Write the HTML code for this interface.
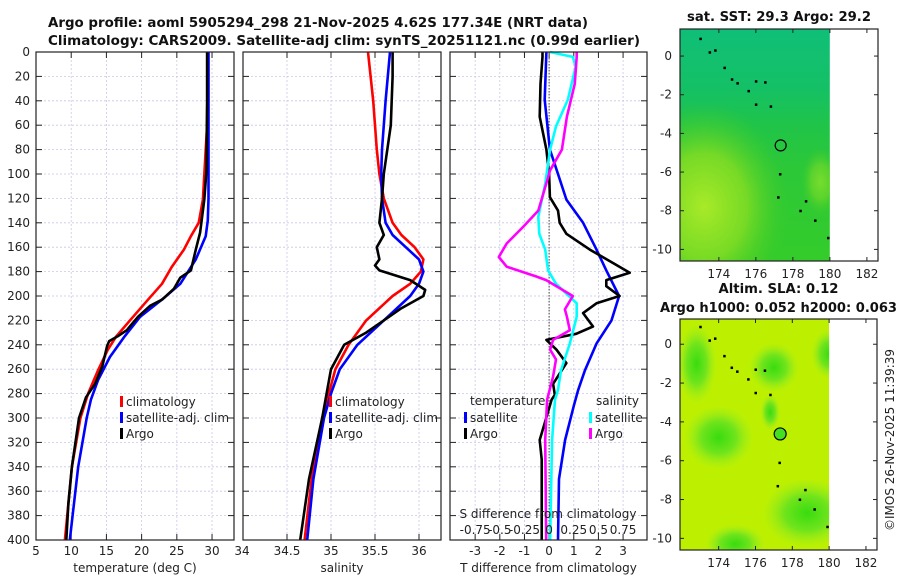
<!DOCTYPE html>
<html><head><meta charset="utf-8">
<style>
body{margin:0;background:#fff;}
svg{display:block;font-family:"DejaVu Sans","Liberation Sans",sans-serif;}
.t{font-size:12px;fill:#222;}
.ttl{font-size:13px;font-weight:bold;fill:#111;}
</style></head>
<body>
<svg id="c" width="900" height="580" viewBox="0 0 900 580">
<text class="ttl" x="318" y="27" text-anchor="middle" textLength="540" lengthAdjust="spacingAndGlyphs">Argo profile: aoml 5905294_298 21-Nov-2025 4.62S 177.34E (NRT data)</text>
<text class="ttl" x="344" y="45" text-anchor="middle" textLength="592" lengthAdjust="spacingAndGlyphs">Climatology: CARS2009. Satellite-adj clim: synTS_20251121.nc (0.99d earlier)</text>
<g id="plots"></g>
</svg>
<script>
// ---- data ----
const tClimD=[0,60,121,140,151,162,176,190,203,217,233,244,261,280,300,340,400];
const tClimV=[29.4,29.3,28.7,28.1,27.0,26.0,24.3,22.9,20.9,18.8,16.4,15.2,13.8,12.4,11.3,10.1,9.1];
const tSatD=[0,60,120,138,151,170,190,201,217,233,250,269,285,300,340,400];
const tSatV=[29.5,29.5,29.5,29.4,29.1,27.7,25.5,23.3,19.8,17.6,15.5,13.8,12.8,12.2,11.0,9.8];
const tArgoD=[0,40,98,121,148,162,179,185,194,203,208,217,228,233,237,241,258,272,283,300,340,370,400];
const tArgoV=[29.3,29.3,29.2,28.9,28.3,27.7,27.0,25.5,24.6,22.9,21.2,19.5,17.9,16.6,15.4,15.1,14.4,13.4,12.1,11.1,10.1,9.6,9.3];
const sClimD=[0,20,40,80,100,120,140,150,160,170,180,190,200,220,240,260,300,350,400];
const sClimV=[35.42,35.45,35.48,35.52,35.55,35.6,35.7,35.8,35.95,36.05,36.02,35.9,35.7,35.4,35.2,35.05,34.9,34.78,34.7];
const sSatD=[0,40,80,100,120,140,150,160,170,180,190,200,220,240,260,280,300,350,400];
const sSatV=[35.67,35.62,35.58,35.57,35.58,35.62,35.7,35.85,36.0,36.05,36.0,35.9,35.6,35.3,35.1,35.0,34.92,34.8,34.73];
const sArgoD=[0,20,60,100,120,140,150,160,170,175,179,187,195,200,210,220,230,240,260,300,350,400];
const sArgoV=[35.7,35.7,35.68,35.6,35.58,35.55,35.6,35.52,35.55,35.5,35.55,35.9,36.07,36.05,35.8,35.6,35.4,35.15,35.0,34.9,34.75,34.65];
const dTsatD=[0,39,80,100,121,140,162,179,200,220,239,261,277,290,318,350,400];
const dTsatV=[-0.11,-0.18,0.03,0.36,0.7,1.38,1.92,2.32,2.84,2.53,1.92,1.45,1.18,1.0,0.65,0.4,0.36];
const dTargoD=[0,4,26,53,80,100,119,130,140,149,162,173,181,187,192,200,206,214,225,231,236,244,255,272,281,285,318,334,367,400];
const dTargoV=[-0.27,-0.27,-0.35,-0.38,-0.11,0,0.03,0.36,0.43,0.7,1.65,2.6,3.27,2.32,2.32,2.86,1.92,1.38,1.78,1.1,-0.11,0.3,0.7,0.16,0.23,0.1,-0.38,-0.3,-0.3,-0.3];
const dSsatD=[0,4,12,39,61,80,108,135,149,162,179,190,206,217,239,261,277,285,318,400];
const dSsatV=[0.007,0.24,0.27,0.19,0.07,0.01,-0.04,-0.11,-0.10,-0.04,-0.01,0.07,0.28,0.28,0.21,0.12,0.09,0.06,0.03,0.01];
const dSargoD=[0,4,26,53,80,97,108,130,143,157,168,176,184,187,200,211,217,228,236,244,252,266,285,318,400];
const dSargoV=[0.28,0.28,0.26,0.18,0.13,0.01,-0.03,-0.11,-0.26,-0.43,-0.51,-0.43,-0.13,-0.03,0.24,0.16,0.18,0.21,0.04,0.01,0.07,0.04,-0.02,-0.04,-0.03];
const depthTicks=[0,20,40,60,80,100,120,140,160,180,200,220,240,260,280,300,320,340,360,380,400];
const tTicks=[5,10,15,20,25,30];
const sTicks=[34,34.5,35,35.5,36];
const dTicks=[-3,-2,-1,0,1,2,3];
const sDiffLabels=["-0.75","-0.5","-0.25","0","0.25","0.5","0.75"];
// ---- geometry ----
const NS='http://www.w3.org/2000/svg';
const root=document.getElementById('plots');
const Y0=52,Y1=540;
const yS=d=>Y0+(Y1-Y0)*d/400;
function mk(tag,at,parent){const e=document.createElementNS(NS,tag);for(const k in at)e.setAttribute(k,at[k]);(parent||root).appendChild(e);return e;}
function panel(name,x0,x1,dom,ticks,labels,xtitle){
  const xs=v=>x0+(x1-x0)*(v-dom[0])/(dom[1]-dom[0]);
  const g=mk('g',{});
  
  
  ticks.forEach(v=>{const l=mk('line',{x1:xs(v),x2:xs(v),y1:Y0,y2:Y1,stroke:'#c8c8e8','stroke-width':0.8,'stroke-dasharray':'2,2'},g);
    });
  depthTicks.forEach(d=>{const l=mk('line',{x1:x0,x2:x1,y1:yS(d),y2:yS(d),stroke:'#c8c8e8','stroke-width':0.8,'stroke-dasharray':'2,2'},g);
    
    mk('line',{x1:x0,x2:x0+6,y1:yS(d),y2:yS(d),stroke:'#222'},g);mk('line',{x1:x1-6,x2:x1,y1:yS(d),y2:yS(d),stroke:'#222'},g);});
  ticks.forEach((v,i)=>{mk('line',{x1:xs(v),x2:xs(v),y1:Y1,y2:Y1-6,stroke:'#222'},g);mk('line',{x1:xs(v),x2:xs(v),y1:Y0,y2:Y0+6,stroke:'#222'},g);
    const t=mk('text',{x:xs(v),y:555,'text-anchor':'middle',class:'t'},g);t.textContent=labels?labels[i]:v;
    });
  const tt=mk('text',{x:(x0+x1)/2,y:572,'text-anchor':'middle',class:'t'},g);tt.textContent=xtitle;
  
  return {xs,g,x0,x1};
}
function line(p,D,V,col,name,f){
  const pts=D.map((d,i)=>p.xs(f?f(V[i]):V[i]).toFixed(1)+','+yS(d).toFixed(1)).join(' ');
  const l=mk('polyline',{points:pts,fill:'none',stroke:col,'stroke-width':2.6,'stroke-linejoin':'round'},p.g);
  
}
function frame(p){mk('rect',{x:p.x0,y:Y0,width:p.x1-p.x0,height:Y1-Y0,fill:'none',stroke:'#222','stroke-width':1.2},p.g);}
function txt(x,y,s,name,anchor,g){const t=mk('text',{x:x,y:y,class:'t','text-anchor':anchor||'start'},g);t.textContent=s;
  return t;}
function leg(x,y,col,s,name,g){const m=mk('rect',{x:x,y:y-10,width:3,height:11,fill:col},g);
  txt(x+6,y,s,name,'start',g);}
// y labels
depthTicks.forEach(d=>{txt(30,yS(d)+4,d,'y-tick-label','end');});
// panel 1
const p1=panel('temperature-panel',36,234,[5,33.12],tTicks,null,'temperature (deg C)');
txt(242,555,'34','x-tick-label-34','middle');
line(p1,tClimD,tClimV,'#f00','climatology-temp-line');
line(p1,tSatD,tSatV,'#00f','satellite-temp-line');
line(p1,tArgoD,tArgoV,'#000','argo-temp-line');
frame(p1);
leg(120,406,'#f00','climatology','legend-climatology',p1.g);
leg(120,422,'#00f','satellite-adj. clim','legend-satellite',p1.g);
leg(120,438,'#000','Argo','legend-argo',p1.g);
// panel 2
const p2=panel('salinity-panel',243,441,[34,36.25],sTicks.slice(1),null,'salinity');
line(p2,sClimD,sClimV,'#f00','climatology-salinity-line');
line(p2,sSatD,sSatV,'#00f','satellite-salinity-line');
line(p2,sArgoD,sArgoV,'#000','argo-salinity-line');
frame(p2);
leg(329,406,'#f00','climatology','legend-climatology-2',p2.g);
leg(329,422,'#00f','satellite-adj. clim','legend-satellite-2',p2.g);
leg(329,438,'#000','Argo','legend-argo-2',p2.g);
// panel 3
const p3=panel('difference-panel',450,647,[-4.02,3.97],dTicks,null,'T difference from climatology');
const z=mk('line',{x1:p3.xs(0),x2:p3.xs(0),y1:Y0,y2:Y1,stroke:'#444','stroke-dasharray':'1.5,1.5','stroke-width':1},p3.g);

line(p3,dTsatD,dTsatV,'#00f','satellite-temp-diff-line');
line(p3,dTargoD,dTargoV,'#000','argo-temp-diff-line');
line(p3,dSsatD,dSsatV,'#0ff','satellite-salinity-diff-line',v=>v*4);
line(p3,dSargoD,dSargoV,'#f0f','argo-salinity-diff-line',v=>v*4);
frame(p3);
txt(470,405,'temperature','legend-temperature-heading','start',p3.g);
leg(464,422,'#00f','satellite','legend-temp-satellite',p3.g);
leg(464,438,'#000','Argo','legend-temp-argo',p3.g);
txt(596,405,'salinity','legend-salinity-heading','start',p3.g);
leg(589,422,'#0ff','satellite','legend-sal-satellite',p3.g);
leg(589,438,'#f0f','Argo','legend-sal-argo',p3.g);
txt(548,518,'S difference from climatology','s-axis-title','middle',p3.g);
dTicks.forEach((v,i)=>txt(p3.xs(v),534,sDiffLabels[i],'s-tick-label','middle',p3.g));
// ---- maps ----
const mapLonTicks=[174,176,178,180,182];
const mapLatTicks=[0,-2,-4,-6,-8,-10];
const floatLon=177.34, floatLat=-4.62;
const islands=[[173.0,0.9],[173.5,0.2],[173.8,0.3],[174.3,-0.6],[174.7,-1.2],[175.0,-1.4],[175.6,-1.8],[176.0,-1.3],[176.5,-1.35],[176.0,-2.5],[176.8,-2.6],[177.3,-6.1],[177.2,-7.3],[178.7,-7.5],[178.4,-8.0],[179.2,-8.5],[179.9,-9.4]];
function map(name,x0,x1,yt,yb,latTop,latBot,kind,title1,title2,w1,w2){
  const g=mk('g',{});
  
  const lonS=v=>x0+(x1-x0)*(v-171.9)/(182.6-171.9);
  const latS=v=>yt+(yb-yt)*(latTop-v)/(latTop-latBot);
  const id=name;
  const defs=mk('defs',{},g);
  const dx=lonS(180);
  const clipDef=`<clipPath id="${id}c"><rect x="${x0}" y="${yt}" width="${dx-x0}" height="${yb-yt}"/></clipPath>`;
  const fg=mk('g',{'clip-path':`url(#${id}c)`},g);
  if(kind===1){
    defs.innerHTML=clipDef+`<linearGradient id="${id}g" x1="0" y1="0" x2="0" y2="1"><stop offset="0" stop-color="#10bf78"/><stop offset="0.25" stop-color="#14c066"/><stop offset="0.42" stop-color="#20c448"/><stop offset="0.6" stop-color="#2cc838"/><stop offset="1" stop-color="#34cc2a"/></linearGradient>
    <radialGradient id="${id}r"><stop offset="0" stop-color="#a8ea28"/><stop offset="0.5" stop-color="#80dc24" stop-opacity="0.9"/><stop offset="1" stop-color="#40cc28" stop-opacity="0"/></radialGradient>`;
    mk('rect',{x:x0,y:yt,width:dx-x0,height:yb-yt,fill:`url(#${id}g)`},fg);
    mk('ellipse',{cx:lonS(173.2),cy:latS(-7.8),rx:85,ry:105,fill:`url(#${id}r)`},fg);
    mk('ellipse',{cx:lonS(179.5),cy:latS(-6.5),rx:20,ry:35,fill:`url(#${id}r)`,opacity:0.6},fg);
  } else {
    defs.innerHTML=clipDef+`<radialGradient id="${id}r"><stop offset="0" stop-color="#38dc10"/><stop offset="0.5" stop-color="#70e41c"/><stop offset="1" stop-color="#a0ec20" stop-opacity="0"/></radialGradient>`;
    mk('rect',{x:x0,y:yt,width:dx-x0,height:yb-yt,fill:'#bcf000'},fg);
    [[174,-4.8,35,32],[178.8,-8.7,45,35],[174.9,-10.3,30,20],[172.8,-1,20,40],[177,-1.2,25,25],[176.8,-3.5,10,18],[180,-0.5,18,25]].forEach(e=>{
      const el=mk('ellipse',{cx:lonS(e[0]),cy:latS(e[1]),rx:e[2],ry:e[3],fill:`url(#${id}r)`},fg);
      });
  }
  islands.forEach(p=>{const r=mk('rect',{x:lonS(p[0])-1,y:latS(p[1])-1,width:2.5,height:2.5,fill:'#000'},g);
    });
  const c=mk('circle',{cx:lonS(floatLon),cy:latS(floatLat),r:kind===1?5.5:6,fill:kind===1?'none':'#44e020',stroke:'#000','stroke-width':1.2},g);
  
  mk('rect',{x:x0,y:yt,width:x1-x0,height:yb-yt,fill:'none',stroke:'#222','stroke-width':1.2},g);
  mapLonTicks.forEach(v=>{mk('line',{x1:lonS(v),x2:lonS(v),y1:yb,y2:yb-4,stroke:'#222'},g);mk('line',{x1:lonS(v),x2:lonS(v),y1:yt,y2:yt+4,stroke:'#222'},g);
    txt(lonS(v),yb+17,v,'map-lon-label','middle',g);});
  mapLatTicks.forEach(v=>{mk('line',{x1:x0,x2:x0+4,y1:latS(v),y2:latS(v),stroke:'#222'},g);mk('line',{x1:x1-4,x2:x1,y1:latS(v),y2:latS(v),stroke:'#222'},g);
    txt(x0-8,latS(v)+4,v,'map-lat-label','end',g);});
  const t1=mk('text',{x:(x0+x1)/2,y:title2?yt-26:yt-8,'text-anchor':'middle',class:'ttl',textLength:w1,lengthAdjust:'spacingAndGlyphs'},g);t1.textContent=title1;
  
  if(title2){const t2=mk('text',{x:(x0+x1)/2,y:yt-7,'text-anchor':'middle',class:'ttl',textLength:w2,lengthAdjust:'spacingAndGlyphs'},g);t2.textContent=title2;
    }
}
map('sst-map',680,878,29,261,1.4,-10.6,1,'sat. SST: 29.3 Argo: 29.2',null,184);
map('sla-map',680,877,319,550,1.3,-10.6,2,'Altim. SLA: 0.12','Argo h1000: 0.052 h2000: 0.063',120,237);
const cp=mk('text',{x:0,y:0,class:'t',transform:'translate(894,440) rotate(-90)','text-anchor':'middle'});
cp.textContent='©IMOS 26-Nov-2025 11:39:39';


</script>
</body></html>
